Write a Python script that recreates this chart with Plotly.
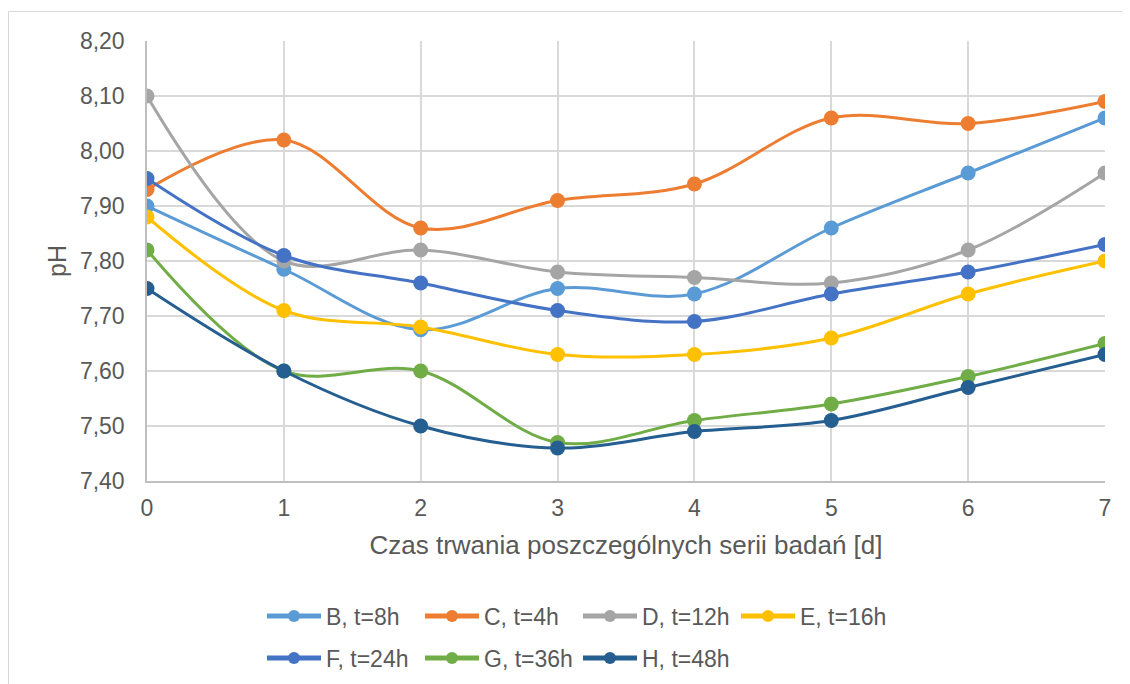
import plotly.graph_objects as go

days = [0, 1, 2, 3, 4, 5, 6, 7]
series_names = ["B, t=8h", "C, t=4h", "D, t=12h", "E, t=16h", "F, t=24h", "G, t=36h", "H, t=48h"]
B = [7.90, 7.785, 7.675, 7.75, 7.74, 7.86, 7.96, 8.06]
C = [7.93, 8.02, 7.86, 7.91, 7.94, 8.06, 8.05, 8.09]
D = [8.10, 7.80, 7.82, 7.78, 7.77, 7.76, 7.82, 7.96]
E = [7.88, 7.71, 7.68, 7.63, 7.63, 7.66, 7.74, 7.80]
F = [7.95, 7.81, 7.76, 7.71, 7.69, 7.74, 7.78, 7.83]
G = [7.82, 7.60, 7.60, 7.47, 7.51, 7.54, 7.59, 7.65]
H = [7.75, 7.60, 7.50, 7.46, 7.49, 7.51, 7.57, 7.63]
y_ticks = [7.40, 7.50, 7.60, 7.70, 7.80, 7.90, 8.00, 8.10, 8.20]

values = [B, C, D, E, F, G, H]
colors = ["#5B9BD5", "#ED7D31", "#A5A5A5", "#FFC000", "#4472C4", "#70AD47", "#255E91"]
legends = ["legend", "legend", "legend", "legend", "legend2", "legend2", "legend2"]

FONT = "Liberation Sans, Arial, sans-serif"
TXT = "#595959"

# page places the figure at an 8px offset (default body margin)
W, Hh = 1122, 676

fig = go.Figure()
for name, vals, col, lg in zip(series_names, values, colors, legends):
    fig.add_trace(go.Scatter(
        x=days, y=vals, name=name, mode="lines+markers",
        line=dict(color=col, width=3, shape="spline", smoothing=1.0),
        marker=dict(color=col, size=15),
        legend=lg,
    ))

legend_common = dict(
    orientation="h", xref="container", yref="container",
    xanchor="left", yanchor="middle",
    font=dict(family=FONT, size=23, color=TXT),
    entrywidth=89, entrywidthmode="pixels", itemwidth=54,
    bgcolor="rgba(0,0,0,0)", itemsizing="constant",
    tracegroupgap=0,
)

fig.update_layout(
    width=W, height=Hh,
    margin=dict(l=139, r=25, t=33, b=203),
    paper_bgcolor="white", plot_bgcolor="white",
    separators=", ",
    font=dict(family=FONT, color=TXT),
    xaxis=dict(
        range=[0, 7], tickmode="array", tickvals=days, ticktext=[str(d) for d in days],
        showgrid=True, gridcolor="#D9D9D9", gridwidth=1.5,
        showline=True, linecolor="#BFBFBF", linewidth=1.5,
        zeroline=False, ticks="", tickfont=dict(size=23, color=TXT, family=FONT),
        ticklabelstandoff=6,
        title=dict(text="Czas trwania poszczególnych serii badań [d]",
                   font=dict(size=26, color=TXT, family=FONT), standoff=15),
    ),
    yaxis=dict(
        range=[7.40, 8.20], tickmode="array", tickvals=y_ticks,
        tickformat=".2f",
        showgrid=True, gridcolor="#D9D9D9", gridwidth=1.5,
        showline=True, linecolor="#BFBFBF", linewidth=1.5,
        zeroline=False, ticks="", tickfont=dict(size=23, color=TXT, family=FONT),
        ticklabelstandoff=16,
        title=dict(text="pH", font=dict(size=25, color=TXT, family=FONT), standoff=6),
    ),
    legend=dict(x=254 / W, y=1 - 608 / Hh, **legend_common),
    legend2=dict(x=254 / W, y=1 - 650 / Hh, **legend_common),
    shapes=[dict(type="rect", xref="paper", yref="paper",
                 x0=(0.5 - 139) / 958, x1=1.2, y0=-0.7, y1=(473 - 3.5) / 440,
                 line=dict(color="#D9D9D9", width=1), fillcolor="rgba(0,0,0,0)", layer="below")],
)

fig.write_html("out.html")
